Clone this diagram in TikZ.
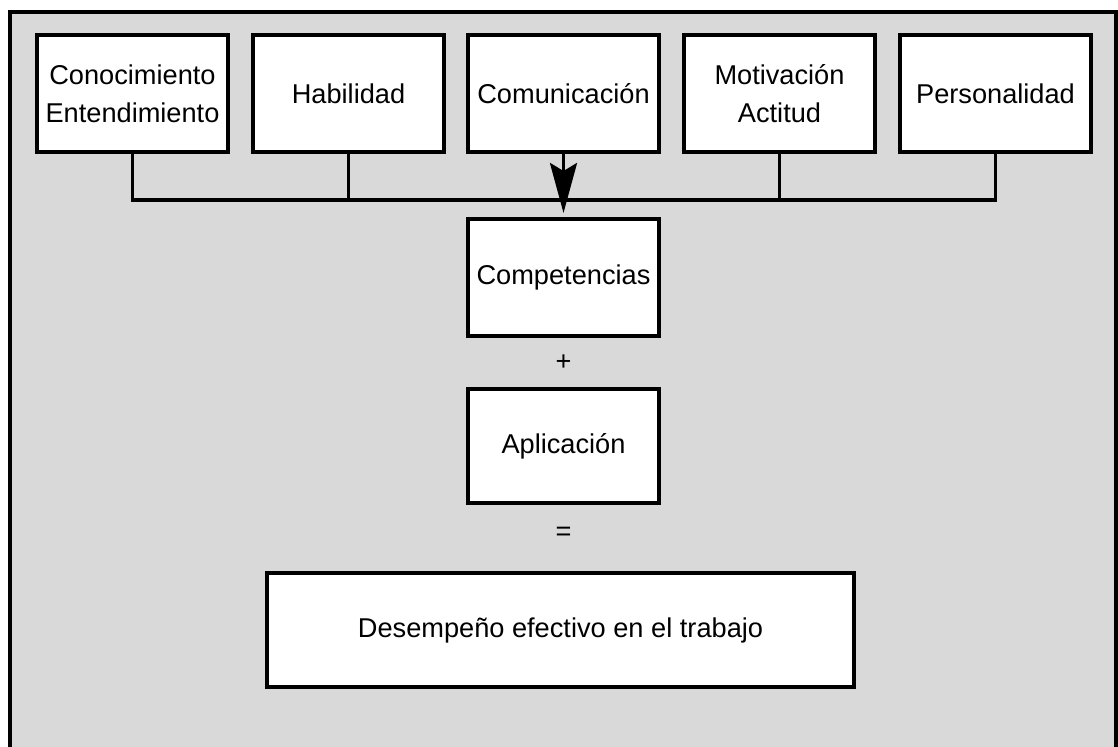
\documentclass[tikz,border=0pt]{standalone}
\usepackage{fontspec}
\setmainfont{Liberation Sans}
\usetikzlibrary{arrows.meta}
\definecolor{fondo}{HTML}{D9D9D9}

\begin{document}
\begin{tikzpicture}[x=0.5pt,y=-0.5pt,
  caja/.style={draw,line width=2pt,fill=white,minimum width=95.5pt,
    minimum height=58.5pt,align=center,inner sep=0pt,
    font=\fontsize{13.6}{19}\selectfont},
  signo/.style={inner sep=0pt,font=\fontsize{13.6}{19}\selectfont},
  linea/.style={line width=1.6pt}]
\useasboundingbox (0,0) rectangle (1118,747);
\filldraw[fill=fondo,line width=2pt] (10,12) rectangle (1116,780);
% fila superior
\node[caja] (con) at (132.5,93.5) {Conocimiento\\Entendimiento};
\node[caja] (hab) at (348.5,93.5) {Habilidad};
\node[caja] (com) at (563.5,93.5) {Comunicaci\'on};
\node[caja] (mot) at (779.5,93.5) {Motivaci\'on\\Actitud};
\node[caja] (per) at (995.5,93.5) {Personalidad};
% centro
\node[caja] (cmp) at (563.5,277.5) {Competencias};
\node[signo] (mas) at (563.5,363) {+};
\node[caja,minimum height=57pt] (apl) at (563.5,446) {Aplicaci\'on};
\node[signo] (igu) at (563.5,534) {=};
\node[caja,minimum width=293.5pt,minimum height=57pt] (des) at (560.5,630)
  {Desempe\~no efectivo en el trabajo};
\coordinate (barra) at (0,200);
\draw[linea] (con.south) |- (barra -| per.south) -- (per.south);
\draw[linea] (hab.south) -- (barra -| hab.south);
\draw[linea] (mot.south) -- (barra -| mot.south);
\draw[linea,-{Stealth[length=25pt,width=13.5pt,inset=4pt]},shorten >=2pt]
  (com.south) -- (cmp.north);
\end{tikzpicture}
\end{document}
